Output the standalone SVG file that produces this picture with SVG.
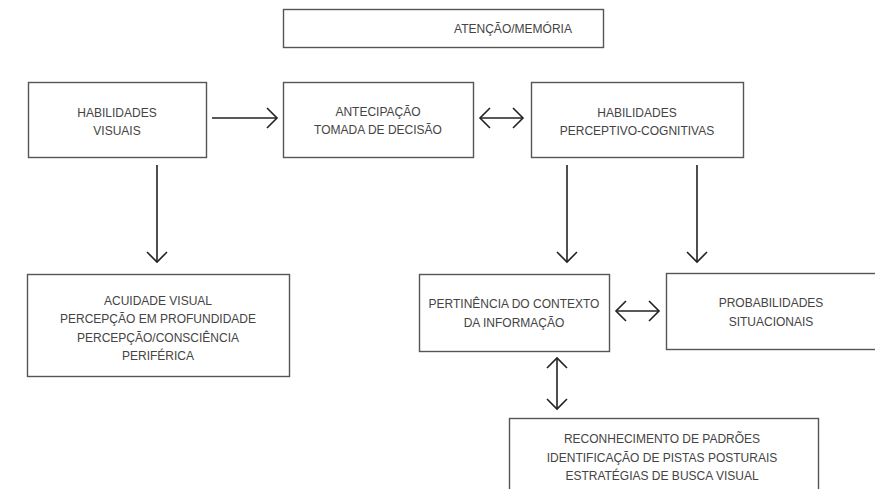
<svg xmlns="http://www.w3.org/2000/svg" width="875" height="489" viewBox="0 0 875 489">
  <defs>
    <style>
      .box { fill: #ffffff; stroke: #555555; stroke-width: 1.4; }
      .lbl { font-family: "Liberation Sans", Arial, sans-serif; font-size: 12px; fill: #444444; text-anchor: middle; }
      .link { fill: none; stroke: #222222; stroke-width: 1.6; }
    </style>
    <marker id="chev" viewBox="-12 -12 14 24" refX="0" refY="0" markerWidth="14" markerHeight="24" markerUnits="userSpaceOnUse" orient="auto-start-reverse">
      <path d="M-10,-10 L0,0 L-10,10" fill="none" stroke="#222222" stroke-width="1.6"/>
    </marker>
  </defs>
  <rect width="875" height="489" fill="#ffffff"/>

  <g id="atencao">
    <rect class="box" x="283.5" y="9.5" width="320" height="38"/>
    <text class="lbl" x="513" y="33">ATENÇÃO/MEMÓRIA</text>
  </g>

  <g id="habilidades-visuais">
    <rect class="box" x="28.5" y="82.5" width="178" height="75"/>
    <text class="lbl" x="117" y="117">HABILIDADES</text>
    <text class="lbl" x="117" y="135">VISUAIS</text>
  </g>

  <g id="antecipacao">
    <rect class="box" x="283.5" y="82.5" width="190" height="75"/>
    <text class="lbl" x="378" y="116">ANTECIPAÇÃO</text>
    <text class="lbl" x="378" y="134">TOMADA DE DECISÃO</text>
  </g>

  <g id="perceptivo-cognitivas">
    <rect class="box" x="531.5" y="82.5" width="212" height="75"/>
    <text class="lbl" x="637" y="117">HABILIDADES</text>
    <text class="lbl" x="637" y="135">PERCEPTIVO-COGNITIVAS</text>
  </g>

  <g id="acuidade">
    <rect class="box" x="27.5" y="274.5" width="262" height="102"/>
    <text class="lbl" x="158" y="305">ACUIDADE VISUAL</text>
    <text class="lbl" x="158" y="323">PERCEPÇÃO EM PROFUNDIDADE</text>
    <text class="lbl" x="158" y="342">PERCEPÇÃO/CONSCIÊNCIA</text>
    <text class="lbl" x="158" y="360">PERIFÉRICA</text>
  </g>

  <g id="pertinencia">
    <rect class="box" x="419.5" y="274.5" width="190" height="77"/>
    <text class="lbl" x="514" y="308">PERTINÊNCIA DO CONTEXTO</text>
    <text class="lbl" x="514" y="327">DA INFORMAÇÃO</text>
  </g>

  <g id="probabilidades">
    <rect class="box" x="666.5" y="273.5" width="212" height="76"/>
    <text class="lbl" x="771" y="307">PROBABILIDADES</text>
    <text class="lbl" x="771" y="326">SITUACIONAIS</text>
  </g>

  <g id="reconhecimento">
    <rect class="box" x="509.5" y="418.5" width="309" height="80"/>
    <text class="lbl" x="662" y="443">RECONHECIMENTO DE PADRÕES</text>
    <text class="lbl" x="662" y="462">IDENTIFICAÇÃO DE PISTAS POSTURAIS</text>
    <text class="lbl" x="662" y="480">ESTRATÉGIAS DE BUSCA VISUAL</text>
  </g>

  <g id="connectors">
    <path class="link" d="M212,118 H277" marker-end="url(#chev)"/>
    <path class="link" d="M480,118 H523" marker-start="url(#chev)" marker-end="url(#chev)"/>
    <path class="link" d="M157,165 V262" marker-end="url(#chev)"/>
    <path class="link" d="M567,165 V262" marker-end="url(#chev)"/>
    <path class="link" d="M697,165 V262" marker-end="url(#chev)"/>
    <path class="link" d="M616,311 H659" marker-start="url(#chev)" marker-end="url(#chev)"/>
    <path class="link" d="M557,358 V409" marker-start="url(#chev)" marker-end="url(#chev)"/>
  </g>
</svg>
